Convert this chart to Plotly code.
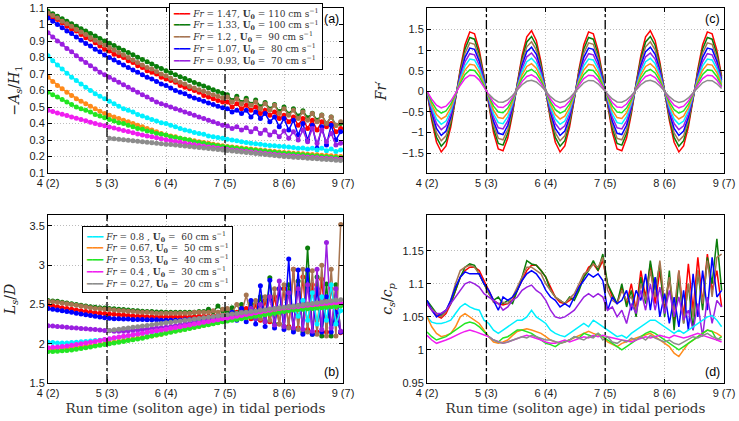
import numpy as np
import plotly.graph_objects as go

# ---------------- data ----------------
# run time in tidal periods (hourly output, 63 samples from t = 4)
time_tidal = np.round(4 + 0.08 * np.arange(63), 2)

x_tick_vals = [4, 5, 6, 7, 8, 9]
x_tick_text = ["4 (2)", "5 (3)", "6 (4)", "7 (5)", "8 (6)", "9 (7)"]
tide_marks = [5, 7]

fr_values = [1.47, 1.33, 1.2, 1.07, 0.93, 0.8, 0.67, 0.53, 0.4, 0.27]
u0_values = [110, 100, 90, 80, 70, 60, 50, 40, 30, 20]
colors = ["#ff0000", "#0a7d0a", "#a67550", "#0000ff", "#9a1fe0",
          "#00f0ff", "#ff8a1a", "#22e622", "#f01ef0", "#8c8c8c"]

N = None
# (a) -A_s/H_1
a_red = [1.06,1.04,1.03,1.01,0.99,0.97,0.96,0.94,0.92,0.91,0.89,0.87,0.85,
         0.84,0.82,0.81,0.80,0.78,0.77,0.75,0.74,0.72,0.71,0.70,0.68,0.67,
         0.66,0.65,0.63,0.62,0.61,0.60,0.59,0.57,0.56,0.55,0.54,0.53,
         0.53,0.50,0.52,0.49,0.51,0.48,0.50,0.46,0.48,0.45,0.47,0.43,0.45,0.41,0.44,0.39,0.43,0.37,0.42,0.36,0.41,0.38,0.40,0.35,0.37]
a_green = [1.08,1.065,1.05,1.035,1.02,1.005,0.99,0.975,0.96,0.945,0.93,0.915,0.90,
           0.886,0.872,0.858,0.844,0.830,0.816,0.802,0.788,0.774,0.760,0.746,0.733,0.720,
           0.708,0.696,0.684,0.672,0.660,0.649,0.638,0.627,0.616,0.605,0.594,0.584,
           0.575,0.540,0.565,0.528,0.553,0.516,0.542,0.502,0.528,0.488,0.515,0.472,0.500,0.458,0.490,0.445,0.478,0.435,0.462,0.420,0.452,0.40,0.44,0.39,0.40]
a_brown = [1.07,1.055,1.04,1.02,1.005,0.99,0.97,0.955,0.94,0.92,0.905,0.89,0.875,
           0.86,0.845,0.83,0.815,0.80,0.785,0.77,0.755,0.74,0.73,0.715,0.70,0.69,
           0.675,0.66,0.65,0.64,0.625,0.615,0.605,0.595,0.585,0.575,0.565,0.555,
           0.56,0.53,0.55,0.52,0.54,0.51,0.53,0.49,0.52,0.48,0.51,0.46,0.49,0.45,0.48,0.43,0.47,0.42,0.46,0.41,0.45,0.40,0.44,0.39,0.41]
a_blue = [1.04,1.02,1.00,0.98,0.96,0.945,0.925,0.905,0.885,0.87,0.85,0.835,0.815,
          0.80,0.785,0.77,0.755,0.74,0.725,0.71,0.695,0.68,0.67,0.655,0.64,0.63,
          0.615,0.60,0.59,0.58,0.565,0.555,0.545,0.535,0.525,0.515,0.505,0.495,
          0.49,0.47,0.48,0.46,0.48,0.44,0.47,0.43,0.46,0.41,0.44,0.38,0.43,0.36,0.42,0.33,0.40,0.30,0.39,0.25,0.38,0.27,0.39,0.30,0.35]
a_purple = [0.95,0.925,0.90,0.88,0.855,0.835,0.81,0.79,0.77,0.75,0.73,0.71,0.695,
            0.68,0.665,0.65,0.635,0.62,0.605,0.59,0.575,0.56,0.545,0.53,0.52,0.51,
            0.50,0.49,0.48,0.47,0.46,0.45,0.44,0.43,0.42,0.41,0.40,0.39,
            0.385,0.37,0.38,0.36,0.375,0.35,0.37,0.34,0.36,0.33,0.35,0.32,0.355,0.31,0.35,0.30,0.36,0.29,0.37,0.28,0.36,0.29,0.34,0.27,0.28]
a_cyan = [0.81,0.78,0.755,0.73,0.705,0.68,0.66,0.64,0.62,0.60,0.58,0.565,0.55,
          0.535,0.52,0.505,0.49,0.48,0.47,0.455,0.445,0.435,0.425,0.415,0.405,0.40,
          0.39,0.38,0.37,0.36,0.355,0.345,0.34,0.335,0.325,0.32,0.315,0.31,
          0.305,0.30,0.295,0.29,0.285,0.28,0.278,0.275,0.27,0.267,0.265,0.262,0.26,0.257,0.255,0.25,0.252,0.245,0.25,0.24,0.25,0.235,0.245,0.23,0.24]
a_orange = [0.68,0.655,0.63,0.61,0.59,0.57,0.55,0.535,0.52,0.505,0.49,0.475,0.46,
            0.45,0.44,0.43,0.42,0.41,0.40,0.39,0.38,0.37,0.36,0.35,0.34,0.33,
            0.325,0.32,0.31,0.305,0.30,0.295,0.29,0.285,0.28,0.275,0.27,0.265,
            0.26,0.257,0.254,0.251,0.248,0.245,0.242,0.239,0.236,0.233,0.23,0.227,0.224,0.222,0.22,0.218,0.216,0.214,0.212,0.21,0.208,0.206,0.204,0.202,0.20]
a_lime = [0.59,0.575,0.56,0.545,0.53,0.515,0.50,0.49,0.48,0.47,0.455,0.445,0.435,
          0.425,0.415,0.405,0.40,0.39,0.38,0.37,0.365,0.355,0.35,0.34,0.335,0.33,
          0.32,0.315,0.31,0.305,0.30,0.29,0.285,0.28,0.275,0.27,0.265,0.26,
          0.257,0.254,0.25,0.247,0.244,0.241,0.238,0.235,0.232,0.229,0.226,0.223,0.22,0.218,0.215,0.213,0.21,0.208,0.205,0.203,0.20,0.198,0.196,0.194,0.192]
a_magenta = [0.48,0.472,0.464,0.456,0.448,0.44,0.432,0.424,0.416,0.408,0.40,0.393,0.386,
             0.379,0.372,0.365,0.358,0.351,0.344,0.337,0.331,0.325,0.319,0.313,0.307,0.301,
             0.296,0.291,0.286,0.281,0.276,0.271,0.266,0.262,0.258,0.254,0.250,0.246,
             0.242,0.239,0.236,0.233,0.230,0.227,0.224,0.221,0.218,0.215,0.212,0.209,0.206,0.204,0.202,0.200,0.198,0.196,0.194,0.192,0.190,0.188,0.186,0.184,0.182]
a_grey = [N,N,N,N,N,N,N,N,N,N,N,N,N,
          0.31,0.308,0.305,0.302,0.299,0.296,0.293,0.29,0.287,0.284,0.281,0.278,0.275,
          0.272,0.269,0.266,0.263,0.26,0.257,0.254,0.251,0.248,0.245,0.242,0.239,
          0.236,0.233,0.23,0.227,0.224,0.221,0.218,0.215,0.212,0.209,0.206,0.203,0.2,0.198,0.196,0.194,0.192,0.19,0.188,0.186,0.184,0.182,0.18,0.178,0.176]

# (b) L_s/D
b_red = [2.49,2.48,2.47,2.46,2.45,2.44,2.43,2.42,2.41,2.40,2.395,2.39,2.385,
         2.38,2.375,2.37,2.365,2.36,2.355,2.35,2.35,2.345,2.345,2.34,2.34,2.34,
         2.34,2.34,2.34,2.34,2.34,2.345,2.35,2.35,2.35,2.36,2.36,2.37,
         2.38,2.34,2.40,2.33,2.45,2.32,2.50,2.30,2.55,2.28,2.60,2.25,2.70,2.22,2.95,2.20,2.85,2.18,2.75,2.15,2.82,2.15,2.70,2.40,2.14]
b_green = [2.55,2.545,2.54,2.53,2.52,2.51,2.50,2.49,2.48,2.47,2.465,2.46,2.455,
           2.45,2.445,2.44,2.435,2.43,2.425,2.42,2.415,2.41,2.41,2.405,2.405,2.40,
           2.40,2.40,2.40,2.40,2.40,2.40,2.41,2.41,2.44,2.41,2.48,2.42,
           2.40,2.46,2.37,2.50,2.35,2.52,2.32,2.60,2.28,2.84,2.25,2.70,2.22,2.75,2.18,2.80,2.15,3.22,2.12,2.85,2.10,2.76,2.10,2.75,2.15]
b_brown = [2.54,2.535,2.53,2.52,2.51,2.50,2.49,2.48,2.47,2.46,2.45,2.445,2.44,
           2.435,2.43,2.425,2.42,2.415,2.41,2.405,2.40,2.40,2.395,2.39,2.39,2.39,
           2.39,2.39,2.39,2.39,2.39,2.40,2.40,2.40,2.40,2.42,2.40,2.44,
           2.45,2.40,2.50,2.38,2.62,2.35,2.55,2.32,2.60,2.30,2.70,2.25,2.75,2.20,2.95,2.18,2.95,2.15,2.93,2.12,3.00,2.10,2.95,2.10,3.52]
b_blue = [2.45,2.44,2.43,2.42,2.41,2.40,2.39,2.38,2.37,2.36,2.35,2.34,2.33,
          2.325,2.32,2.32,2.315,2.315,2.31,2.31,2.31,2.305,2.305,2.305,2.30,2.30,
          2.30,2.30,2.30,2.305,2.31,2.31,2.315,2.32,2.32,2.325,2.33,2.34,
          2.36,2.40,2.30,2.45,2.28,2.55,2.25,2.74,2.22,2.81,2.20,2.70,2.18,3.08,2.15,2.94,2.12,2.94,2.12,2.70,2.15,2.60,2.15,2.40,2.15]
b_purple = [2.23,2.225,2.22,2.215,2.21,2.205,2.20,2.195,2.19,2.185,2.18,2.175,2.17,
            2.165,2.16,2.16,2.16,2.165,2.17,2.175,2.18,2.185,2.19,2.20,2.205,2.21,
            2.22,2.23,2.24,2.25,2.26,2.27,2.28,2.29,2.30,2.31,2.32,2.33,
            2.36,2.37,2.38,2.40,2.36,2.45,2.32,2.50,2.28,2.60,2.24,2.80,2.22,2.65,2.20,2.70,2.18,2.75,2.16,2.95,2.18,3.29,2.20,2.70,2.16]
b_cyan = [2.02,2.015,2.01,2.01,2.01,2.015,2.02,2.025,2.03,2.035,2.04,2.045,2.05,
          2.06,2.07,2.08,2.09,2.10,2.11,2.12,2.13,2.14,2.15,2.16,2.17,2.18,
          2.19,2.20,2.21,2.22,2.23,2.24,2.25,2.26,2.27,2.28,2.29,2.30,
          2.31,2.32,2.33,2.34,2.35,2.36,2.37,2.375,2.38,2.39,2.40,2.41,2.42,2.43,2.45,2.35,2.55,2.30,2.65,2.25,2.60,2.30,2.75,2.25,2.42]
b_orange = [1.93,1.93,1.935,1.94,1.945,1.95,1.955,1.96,1.97,1.975,1.98,1.99,2.00,
            2.01,2.02,2.03,2.04,2.05,2.06,2.07,2.08,2.09,2.10,2.11,2.12,2.14,
            2.152,2.164,2.176,2.188,2.20,2.212,2.224,2.236,2.248,2.26,2.272,2.284,
            2.296,2.308,2.32,2.332,2.344,2.356,2.368,2.38,2.39,2.40,2.41,2.42,2.43,2.44,2.445,2.45,2.46,2.465,2.47,2.475,2.48,2.485,2.49,2.495,2.50]
b_lime = [1.90,1.90,1.905,1.91,1.915,1.92,1.93,1.94,1.95,1.96,1.97,1.98,1.99,
          2.00,2.01,2.02,2.03,2.04,2.05,2.06,2.07,2.085,2.10,2.11,2.12,2.135,
          2.147,2.159,2.171,2.183,2.195,2.207,2.219,2.231,2.243,2.255,2.267,2.279,
          2.29,2.30,2.31,2.32,2.33,2.34,2.35,2.36,2.37,2.38,2.39,2.40,2.41,2.42,2.43,2.435,2.44,2.445,2.45,2.455,2.46,2.465,2.47,2.475,2.48]
b_magenta = [1.95,1.955,1.96,1.965,1.97,1.98,1.99,2.00,2.01,2.02,2.03,2.04,2.055,
             2.065,2.075,2.085,2.095,2.105,2.115,2.125,2.135,2.145,2.155,2.165,2.175,2.185,
             2.196,2.207,2.218,2.229,2.24,2.251,2.262,2.273,2.284,2.295,2.306,2.317,
             2.328,2.339,2.35,2.361,2.372,2.383,2.394,2.405,2.416,2.427,2.438,2.448,2.455,2.462,2.469,2.476,2.483,2.49,2.497,2.504,2.51,2.515,2.52,2.525,2.52]
b_grey = [N,N,N,N,N,N,N,N,N,N,N,N,N,
          2.17,2.178,2.186,2.194,2.202,2.21,2.218,2.226,2.234,2.242,2.25,2.258,2.266,
          2.274,2.282,2.29,2.298,2.306,2.314,2.322,2.33,2.338,2.346,2.354,2.362,
          2.37,2.378,2.386,2.394,2.402,2.41,2.418,2.426,2.434,2.442,2.45,2.458,2.466,2.474,2.482,2.49,2.498,2.506,2.514,2.522,2.53,2.538,2.546,2.554,2.56]

# (c) Fr' : tidal waveform (per unit Fr), scaled by each Fr
tide_wave = [0,-0.48,-0.84,-1.0,-0.9,-0.59,-0.13,0.37,0.77,0.98,0.95,0.68,0.25,-0.25,-0.68,-0.95,-0.98,-0.77,-0.37,0.13,0.59,0.9,1.0,0.84,0.48,
             0,-0.48,-0.84,-1.0,-0.9,-0.59,-0.13,0.37,0.77,0.98,0.95,0.68,0.25,-0.25,-0.68,-0.95,-0.98,-0.77,-0.37,0.13,0.59,0.9,1.0,0.84,0.48,
             0,-0.48,-0.84,-1.0,-0.9,-0.59,-0.13,0.37,0.77,0.98,0.95,0.68,0.25]
c_start = [0, 0, 0, 0, 0, 0, 0, 0, 0, 13]  # first sample index of each run

# (d) c_s/c_p
d_red = [1.07,1.06,1.052,1.048,1.055,1.07,1.09,1.11,1.12,1.125,1.125,1.12,1.105,
         1.09,1.075,1.07,1.068,1.07,1.075,1.09,1.105,1.12,1.128,1.128,1.12,1.11,
         1.095,1.08,1.072,1.07,1.075,1.08,1.095,1.11,1.125,1.13,1.12,1.135,1.10,
         1.08,1.07,1.095,1.07,1.10,1.06,1.12,1.08,1.13,1.07,1.12,1.06,1.11,1.04,1.12,1.05,1.13,1.06,1.14,1.07,1.145,1.09,1.12,1.065]
d_green = [1.075,1.065,1.055,1.052,1.06,1.07,1.09,1.11,1.125,1.13,1.128,1.115,1.10,
           1.085,1.075,1.08,1.07,1.075,1.07,1.09,1.11,1.135,1.13,1.128,1.12,1.11,
           1.09,1.08,1.075,1.07,1.08,1.075,1.09,1.11,1.12,1.135,1.12,1.145,1.10,
           1.085,1.07,1.10,1.065,1.09,1.05,1.11,1.07,1.135,1.09,1.13,1.05,1.12,1.03,1.11,1.04,1.10,1.03,1.12,1.06,1.14,1.10,1.168,1.09]
d_brown = [1.072,1.062,1.055,1.05,1.058,1.075,1.10,1.12,1.125,1.128,1.125,1.115,1.10,
           1.085,1.072,1.07,1.072,1.07,1.08,1.095,1.11,1.125,1.125,1.12,1.115,1.10,
           1.09,1.08,1.075,1.07,1.078,1.085,1.10,1.115,1.12,1.13,1.125,1.14,1.09,
           1.075,1.07,1.09,1.075,1.08,1.06,1.10,1.075,1.12,1.08,1.135,1.07,1.11,1.06,1.12,1.04,1.10,1.05,1.12,1.07,1.135,1.08,1.14,1.145]
d_blue = [1.075,1.06,1.05,1.055,1.06,1.075,1.095,1.11,1.118,1.115,1.115,1.115,1.10,
          1.09,1.075,1.06,1.08,1.075,1.08,1.09,1.105,1.115,1.12,1.115,1.105,1.09,
          1.08,1.075,1.065,1.07,1.065,1.08,1.095,1.105,1.115,1.11,1.115,1.105,1.06,
          1.08,1.07,1.075,1.09,1.06,1.09,1.075,1.115,1.06,1.11,1.05,1.085,1.04,1.08,1.035,1.09,1.03,1.115,1.05,1.12,1.06,1.14,1.08,1.09]
d_purple = [1.07,1.06,1.055,1.055,1.06,1.07,1.08,1.09,1.10,1.103,1.10,1.095,1.085,
            1.08,1.075,1.07,1.06,1.065,1.075,1.08,1.09,1.095,1.098,1.09,1.085,1.075,
            1.06,1.05,1.048,1.05,1.055,1.06,1.07,1.08,1.085,1.08,1.085,1.08,1.06,
            1.065,1.05,1.06,1.04,1.07,1.055,1.09,1.06,1.10,1.06,1.095,1.055,1.09,1.05,1.08,1.045,1.06,1.03,1.07,1.02,1.08,1.04,1.075,1.065]
d_cyan = [1.05,1.042,1.04,1.04,1.042,1.045,1.055,1.065,1.07,1.065,1.062,1.06,1.045,
          1.04,1.03,1.025,1.03,1.035,1.04,1.045,1.045,1.05,1.06,1.05,1.045,1.04,
          1.03,1.025,1.022,1.02,1.025,1.03,1.035,1.04,1.035,1.045,1.04,1.035,1.03,
          1.025,1.02,1.022,1.018,1.025,1.03,1.035,1.04,1.045,1.045,1.04,1.035,1.03,1.025,1.03,1.025,1.03,1.035,1.04,1.045,1.05,1.052,1.045,1.035]
d_orange = [1.05,1.035,1.025,1.02,1.022,1.025,1.035,1.05,1.055,1.05,1.045,1.04,1.03,
            1.02,1.012,1.01,1.012,1.015,1.022,1.028,1.03,1.032,1.03,1.028,1.025,1.02,
            1.015,1.012,1.01,1.012,1.015,1.018,1.022,1.025,1.028,1.025,1.022,1.02,1.012,
            1.008,1.005,1.01,1.012,1.015,1.018,1.02,1.022,1.025,1.02,1.015,1.01,1.005,0.995,0.99,1.0,1.01,1.015,1.02,1.025,1.03,1.028,1.025,1.02]
d_lime = [1.027,1.02,1.015,1.018,1.02,1.025,1.03,1.035,1.04,1.042,1.04,1.035,1.028,
          1.02,1.015,1.012,1.018,1.02,1.025,1.03,1.03,1.028,1.025,1.02,1.015,1.01,
          1.008,1.005,1.01,1.012,1.015,1.02,1.018,1.025,1.022,1.02,1.025,1.02,1.015,
          1.01,1.005,1.0,1.005,1.01,1.015,1.02,1.025,1.028,1.025,1.02,1.015,1.01,1.005,1.0,1.005,1.01,1.015,1.02,1.025,1.03,1.028,1.015,1.02]
d_magenta = [1.022,1.015,1.01,1.012,1.015,1.018,1.022,1.025,1.028,1.03,1.028,1.025,1.022,
             1.02,1.015,1.012,1.01,1.012,1.015,1.018,1.02,1.022,1.02,1.018,1.015,1.012,
             1.01,1.01,1.012,1.015,1.012,1.015,1.018,1.02,1.018,1.022,1.02,1.022,1.02,
             1.018,1.016,1.015,1.014,1.012,1.015,1.018,1.02,1.018,1.02,1.022,1.02,1.018,1.022,1.02,1.018,1.02,1.022,1.025,1.022,1.02,1.018,1.015,1.012]
d_grey = [N,N,N,N,N,N,N,N,N,N,N,N,N,
          1.02,1.015,1.012,1.01,1.012,1.015,1.018,1.02,1.018,1.022,1.02,1.018,1.015,
          1.015,1.012,1.01,1.012,1.015,1.02,1.018,1.015,1.02,1.018,1.025,1.015,1.02,
          1.012,1.01,1.015,1.012,1.018,1.015,1.02,1.015,1.022,1.018,1.015,1.012,1.015,1.01,1.008,1.012,1.015,1.02,1.018,1.022,1.025,1.02,1.018,1.015]

series_a = [a_red, a_green, a_brown, a_blue, a_purple, a_cyan, a_orange, a_lime, a_magenta, a_grey]
series_b = [b_red, b_green, b_brown, b_blue, b_purple, b_cyan, b_orange, b_lime, b_magenta, b_grey]
series_d = [d_red, d_green, d_brown, d_blue, d_purple, d_cyan, d_orange, d_lime, d_magenta, d_grey]

bad = []
for nm, group in (("a", series_a), ("b", series_b), ("d", series_d)):
    for i, s in enumerate(group):
        if len(s) != len(time_tidal):
            bad.append((nm, i, len(s)))
if len(tide_wave) != len(time_tidal):
    bad.append(("c", -1, len(tide_wave)))
if bad:
    raise SystemExit("length mismatch: %s" % bad)

# ---------------- figure ----------------
W, H = 739, 421
def px_x(p):
    return p / W
def px_y(p):
    return 1 - p / H

dom_left = [px_x(48), px_x(343)]
dom_right = [px_x(427), px_x(724)]
dom_top = [px_y(173), px_y(8)]
dom_bot = [px_y(383), px_y(215)]

SANS = "Liberation Sans"
SERIF = "DejaVu Serif"

fig = go.Figure()

for i in range(10):
    fig.add_trace(go.Scatter(x=time_tidal, y=series_a[i], mode="lines+markers",
                             line=dict(color=colors[i], width=1.5),
                             marker=dict(color=colors[i], size=5),
                             xaxis="x", yaxis="y", showlegend=False,
                             name=f"Fr = {fr_values[i]}"))
for i in range(10):
    fig.add_trace(go.Scatter(x=time_tidal, y=series_b[i], mode="lines+markers",
                             line=dict(color=colors[i], width=1.5),
                             marker=dict(color=colors[i], size=5),
                             xaxis="x2", yaxis="y2", showlegend=False,
                             name=f"Fr = {fr_values[i]}"))
for i in range(10):
    yc = [None if k < c_start[i] else fr_values[i] * w for k, w in enumerate(tide_wave)]
    fig.add_trace(go.Scatter(x=time_tidal, y=yc, mode="lines",
                             line=dict(color=colors[i], width=1.5),
                             xaxis="x3", yaxis="y3", showlegend=False,
                             name=f"Fr = {fr_values[i]}"))
for i in range(10):
    fig.add_trace(go.Scatter(x=time_tidal, y=series_d[i], mode="lines",
                             line=dict(color=colors[i], width=1.5),
                             xaxis="x4", yaxis="y4", showlegend=False,
                             name=f"Fr = {fr_values[i]}"))

tick_font = dict(family=SANS, size=11, color="#1a1a1a")

def ax_common():
    return dict(showline=True, linecolor="black", linewidth=1, mirror="allticks",
                ticks="inside", ticklen=4, tickcolor="black", automargin=False,
                showgrid=True, gridcolor="#bcbcbc", griddash="1px,2px", gridwidth=1,
                zeroline=False, tickfont=tick_font)

xtitle = dict(text="Run time (soliton age) in tidal periods",
              font=dict(family=SERIF, size=13.5, color="#333333"), standoff=5)

for name, dom, anchor, with_title in (("xaxis", dom_left, "y", False),
                                      ("xaxis2", dom_left, "y2", True),
                                      ("xaxis3", dom_right, "y3", False),
                                      ("xaxis4", dom_right, "y4", True)):
    ax = ax_common()
    ax.update(domain=dom, anchor=anchor, range=[4, 9],
              tickmode="array", tickvals=x_tick_vals, ticktext=x_tick_text)
    if with_title:
        ax["title"] = xtitle
    fig.layout[name] = ax

ytitle_font = dict(family=SERIF, size=14, color="#222222")
ya = ax_common(); ya.update(domain=dom_top, anchor="x", range=[0.1, 1.1],
    tickmode="array", tickvals=[0.1,0.2,0.3,0.4,0.5,0.6,0.7,0.8,0.9,1.0,1.1],
    ticktext=["0.1","0.2","0.3","0.4","0.5","0.6","0.7","0.8","0.9","1","1.1"],
    title=dict(text="−<i>A<sub>s</sub></i>/<i>H</i><sub>1</sub>", font=ytitle_font, standoff=6))
yb = ax_common(); yb.update(domain=dom_bot, anchor="x2", range=[1.5, 3.64],
    tickmode="array", tickvals=[1.5, 2, 2.5, 3, 3.5], ticktext=["1.5","2","2.5","3","3.5"],
    title=dict(text="<i>L<sub>s</sub></i>/<i>D</i>", font=ytitle_font, standoff=10))
yc_ax = ax_common(); yc_ax.update(domain=dom_top, anchor="x3", range=[-1.98, 2.02],
    tickmode="array", tickvals=[-1.5,-1,-0.5,0,0.5,1,1.5],
    ticktext=["−1.5","−1","−0.5","0","0.5","1","1.5"],
    title=dict(text="<i>Fr</i>′", font=ytitle_font, standoff=12))
yd = ax_common(); yd.update(domain=dom_bot, anchor="x4", range=[0.95, 1.204],
    tickmode="array", tickvals=[0.95,1.0,1.05,1.1,1.15], ticktext=["0.95","1","1.05","1.1","1.15"],
    title=dict(text="<i>c<sub>s</sub></i>/<i>c<sub>p</sub></i>", font=ytitle_font, standoff=6))
fig.layout.yaxis = ya
fig.layout.yaxis2 = yb
fig.layout.yaxis3 = yc_ax
fig.layout.yaxis4 = yd

# dashed markers of tidal periods
for xr, yr in (("x", "y"), ("x2", "y2"), ("x3", "y3"), ("x4", "y4")):
    for xv in tide_marks:
        fig.add_shape(type="line", xref=xr, yref=f"{yr} domain", x0=xv, x1=xv, y0=0, y1=1,
                      line=dict(color="black", width=1.3, dash="dashdot"))

# panel letters
for xr, yr, lab, top in (("x", "y", "(a)", True), ("x2", "y2", "(b)", False),
                         ("x3", "y3", "(c)", True), ("x4", "y4", "(d)", False)):
    fig.add_annotation(xref=f"{xr} domain", yref=f"{yr} domain", x=1, y=1 if top else 0,
                       xanchor="right", yanchor="top" if top else "bottom",
                       xshift=-2, yshift=-2 if top else 2, showarrow=False, text=lab,
                       font=dict(family=SANS, size=12.5, color="black"))

# legends (text boxes)
def legend_text(idx):
    rows = []
    for i in idx:
        frs = f"{fr_values[i]:<4}"
        rows.append(f'<span style="color:{colors[i]}">━━━</span> '
                    f'<i>Fr</i> = {frs}, <b>U<sub>0</sub></b> = {u0_values[i]:>3} cm s<sup>−1</sup>')
    return "<br>".join(rows)

leg_font = dict(family=SERIF, size=9, color="#333333")
fig.add_annotation(xref="paper", yref="paper", x=px_x(169), y=px_y(3), xanchor="left", yanchor="top",
                   text=legend_text(range(0, 5)), showarrow=False, align="left",
                   bgcolor="white", bordercolor="black", borderwidth=1, borderpad=3, font=leg_font)
fig.add_annotation(xref="paper", yref="paper", x=px_x(82), y=px_y(226), xanchor="left", yanchor="top",
                   text=legend_text(range(5, 10)), showarrow=False, align="left",
                   bgcolor="white", bordercolor="black", borderwidth=1, borderpad=3, font=leg_font)

fig.update_layout(width=W, height=H, margin=dict(l=0, r=0, t=0, b=0),
                  paper_bgcolor="white", plot_bgcolor="white", showlegend=False,
                  font=dict(family=SANS))

fig.write_html("out.html")
